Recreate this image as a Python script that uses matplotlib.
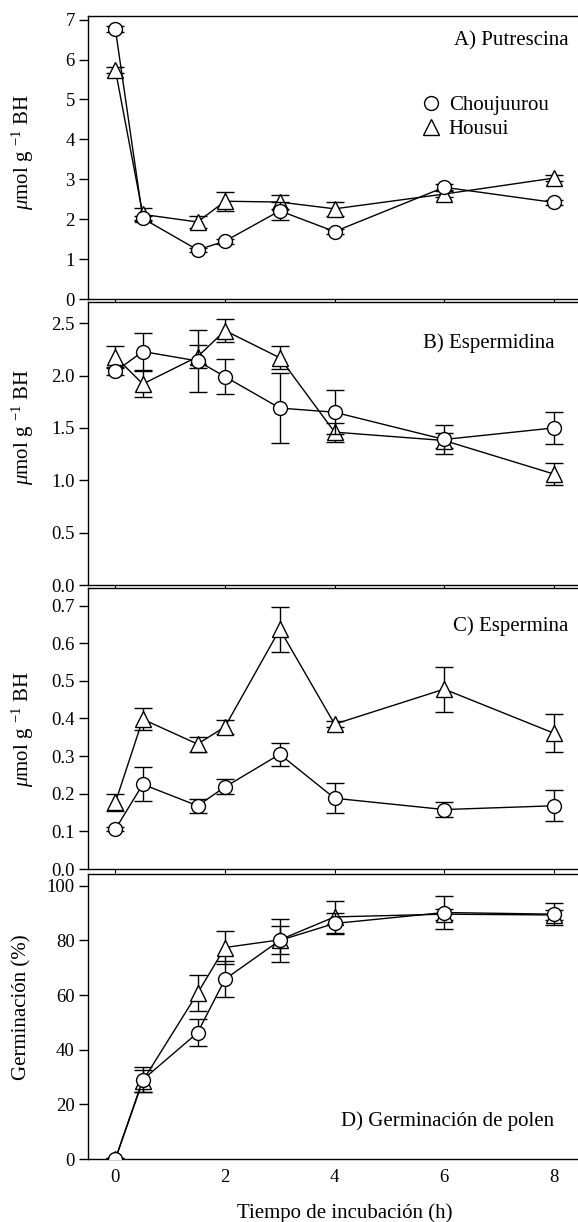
import matplotlib
matplotlib.use("Agg")
import matplotlib.pyplot as plt
from matplotlib.lines import Line2D

plt.rcParams['font.family'] = ['Liberation Serif', 'DejaVu Serif']
plt.rcParams['mathtext.fontset'] = 'custom'
plt.rcParams['mathtext.rm'] = 'Liberation Serif'
plt.rcParams['mathtext.it'] = 'Liberation Serif:italic'

# incubation time (h)
hours = [0, 0.5, 1.5, 2, 3, 4, 6, 8]

# A) Putrescina
put_chou = [6.76, 2.02, 1.23, 1.45, 2.21, 1.69, 2.80, 2.42]
put_chou_err = [0.08, 0.06, 0.06, 0.06, 0.22, 0.06, 0.08, 0.06]
put_hou = [5.74, 2.12, 1.93, 2.45, 2.43, 2.26, 2.63, 3.03]
put_hou_err = [0.08, 0.15, 0.16, 0.24, 0.17, 0.17, 0.08, 0.08]

# B) Espermidina
spd_chou = [2.04, 2.23, 2.14, 1.99, 1.69, 1.65, 1.39, 1.50]
spd_chou_err = [0.03, 0.18, 0.30, 0.17, 0.33, 0.21, 0.14, 0.155]
spd_hou = [2.18, 1.92, 2.18, 2.43, 2.17, 1.46, 1.38, 1.06]
spd_hou_err = [0.10, 0.12, 0.11, 0.11, 0.11, 0.09, 0.07, 0.105]

# C) Espermina
spm_chou = [0.106, 0.225, 0.168, 0.218, 0.305, 0.188, 0.158, 0.168]
spm_chou_err = [0.005, 0.045, 0.018, 0.02, 0.031, 0.04, 0.019, 0.041]
spm_hou = [0.177, 0.398, 0.332, 0.378, 0.637, 0.385, 0.478, 0.361]
spm_hou_err = [0.022, 0.029, 0.02, 0.018, 0.06, 0.008, 0.06, 0.05]

# D) Germinacion de polen
ger_chou = [0.0, 29.0, 46.2, 65.8, 80.0, 86.2, 90.2, 89.6]
ger_chou_err = [0.3, 4.5, 5.0, 6.5, 8.0, 4.0, 6.0, 4.0]
ger_hou = [0.0, 28.6, 60.7, 77.4, 80.2, 88.6, 89.6, 89.3]
ger_hou_err = [0.3, 4.0, 6.5, 6.0, 5.0, 6.0, 2.0, 2.0]

panels = [
    ("A) Putrescina", put_chou, put_chou_err, put_hou, put_hou_err,
     7.1, [0, 1, 2, 3, 4, 5, 6, 7], "%d"),
    ("B) Espermidina", spd_chou, spd_chou_err, spd_hou, spd_hou_err,
     2.70, [0.0, 0.5, 1.0, 1.5, 2.0, 2.5], "%.1f"),
    ("C) Espermina", spm_chou, spm_chou_err, spm_hou, spm_hou_err,
     0.746, [0.0, 0.1, 0.2, 0.3, 0.4, 0.5, 0.6, 0.7], "%.1f"),
    ("D) Germinación de polen", ger_chou, ger_chou_err, ger_hou, ger_hou_err,
     104.3, [0, 20, 40, 60, 80, 100], "%d"),
]

W, H = 578, 1222
fig = plt.figure(figsize=(W / 100, H / 100), dpi=100)

# pixel extents (top, bottom) of each panel
px_rows = [(15.7, 299.0), (302.3, 585.0), (588.3, 869.0), (874.0, 1159.0)]
left_px = 88.0
x_left = -0.5
x_right = x_left + (W - left_px) / 54.8

label_pos = [(0.98, 0.91), (0.953, 0.857), (0.98, 0.867), (0.951, 0.134)]
ylab_pos = [(-0.106, 0.52), (-0.106, 0.56), (-0.106, 0.50), (-0.116, 0.534)]

tfs = 13.5   # tick labels
lfs = 15     # axis labels and panel titles
style = dict(color='black', lw=1.0, mfc='white', mec='black', mew=1.0,
             capsize=6.5, elinewidth=1.0, capthick=1.0)

for i, (title, chou, chou_err, hou, hou_err, ytop, yticks, fmt) in enumerate(panels):
    top, bot = px_rows[i]
    ax = fig.add_axes([left_px / W, 1 - bot / H, 1 - left_px / W, (bot - top) / H])

    ax.errorbar(hours, hou, yerr=hou_err, fmt='-^', ms=11, zorder=2, **style)
    ax.errorbar(hours, chou, yerr=chou_err, fmt='-o', ms=10, zorder=3, **style)

    ax.set_xlim(x_left, x_right)
    ax.set_ylim(0, ytop)
    ax.set_yticks(yticks)
    ax.set_yticklabels([fmt % v for v in yticks])
    ax.set_xticks([0, 2, 4, 6, 8])
    ax.spines['right'].set_visible(False)
    for s in ['left', 'top', 'bottom']:
        ax.spines[s].set_linewidth(1.0)
    ax.tick_params(axis='y', direction='out', length=6.5, width=1.0,
                   labelsize=tfs, pad=3)

    if i < 3:
        ax.tick_params(axis='x', direction='out', length=3, width=0.8,
                       labelbottom=False)
        ax.set_ylabel(r'$\mu$mol g $^{-1}$ BH', fontsize=lfs)
    else:
        ax.tick_params(axis='x', direction='out', length=0, labelsize=tfs,
                       pad=7.5)
        ax.set_ylabel('Germinación (%)', fontsize=lfs)
        ax.set_xlabel('Tiempo de incubación (h)', fontsize=lfs)
        ax.xaxis.set_label_coords(0.524, -0.155)

    ax.yaxis.set_label_coords(*ylab_pos[i])
    ax.text(label_pos[i][0], label_pos[i][1], title, transform=ax.transAxes,
            ha='right', va='center', fontsize=lfs)

    if i == 0:
        handles = [
            Line2D([], [], ls='none', marker='o', ms=10, mfc='white',
                   mec='black', mew=1.0),
            Line2D([], [], ls='none', marker='^', ms=11, mfc='white',
                   mec='black', mew=1.0),
        ]
        ax.legend(handles, ['Choujuurou', 'Housui'], loc='upper left',
                  bbox_to_anchor=(0.683, 0.717), frameon=False, fontsize=lfs,
                  handlelength=0.8, handletextpad=0.45, borderpad=0,
                  borderaxespad=0, labelspacing=0.2)

fig.savefig('out.png', dpi=100)
